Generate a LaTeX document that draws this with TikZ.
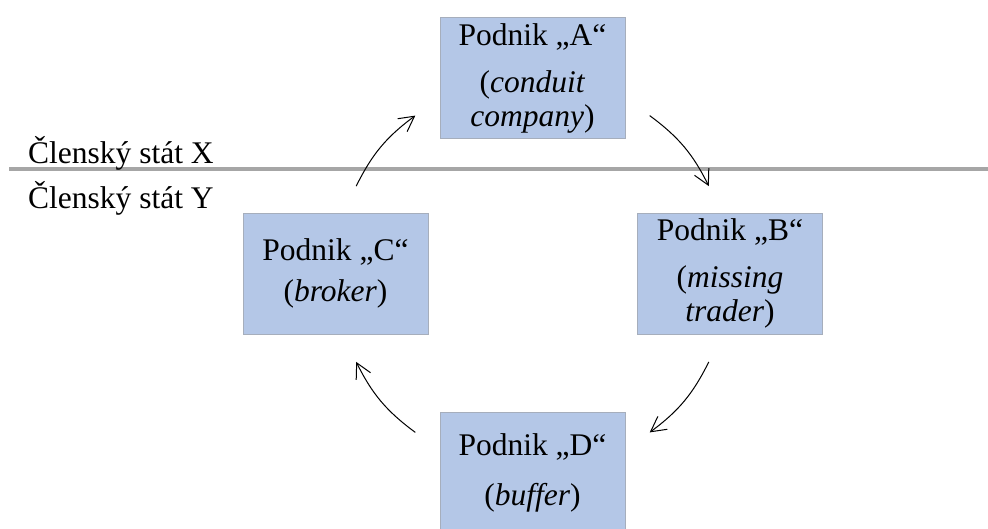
\documentclass[tikz,border=0pt]{standalone}
\usepackage{fontspec}
\setmainfont{Liberation Serif}
\usetikzlibrary{arrows.meta}
\definecolor{boxfill}{HTML}{B4C7E7}
\definecolor{boxline}{HTML}{A6AEBC}
\definecolor{sepline}{HTML}{A6A6A6}
\begin{document}
\begin{tikzpicture}[x=1pt,y=-1pt,
  firm/.style={draw=boxline, line width=0.9pt, fill=boxfill, minimum width=185pt, minimum height=121pt,
    inner sep=0pt, align=center, font=\fontsize{31.5}{34}\selectfont},
  statelabel/.style={anchor=base west, inner sep=0pt, font=\fontsize{31.5}{34}\selectfont},
  flow/.style={-{Straight Barb[length=15pt,width=16pt,line width=1pt]}, line width=1pt, bend left=13.5}
]
\useasboundingbox (0,0) rectangle (988,528);
% separator
\coordinate (sepL) at (9,169);
\coordinate (sepR) at (988,169);
\draw[sepline, line width=3.5pt] (sepL) -- (sepR);
\node[statelabel] (stX) at (28,163) {Členský stát X};
\node[statelabel] (stY) at (28,208) {Členský stát Y};
% boxes
\node[firm] (A) at (532.5,78) {Podnik „A“\\[13pt](\textit{conduit}\\\textit{company})};
\node[firm] (B) at (730,273.5) {Podnik „B“\\[13pt](\textit{missing}\\\textit{trader})};
\node[firm] (C) at (335.5,273.5) {Podnik „C“\\[7pt](\textit{broker})};
\node[firm] (D) at (532.5,472.5) {Podnik „D“\\[16pt](\textit{buffer})};
% arrow end points on a circle around the cycle
\coordinate (ca1) at (356.2,186.1);
\coordinate (ca2) at (415.3,115.6);
\coordinate (ab1) at (649.7,115.6);
\coordinate (ab2) at (708.8,186.1);
\coordinate (bd1) at (708.8,361.9);
\coordinate (bd2) at (649.7,432.4);
\coordinate (dc1) at (415.3,432.4);
\coordinate (dc2) at (356.2,361.9);
\draw[flow] (ca1) to (ca2);
\draw[flow] (ab1) to (ab2);
\draw[flow] (bd1) to (bd2);
\draw[flow] (dc1) to (dc2);
\end{tikzpicture}
\end{document}
